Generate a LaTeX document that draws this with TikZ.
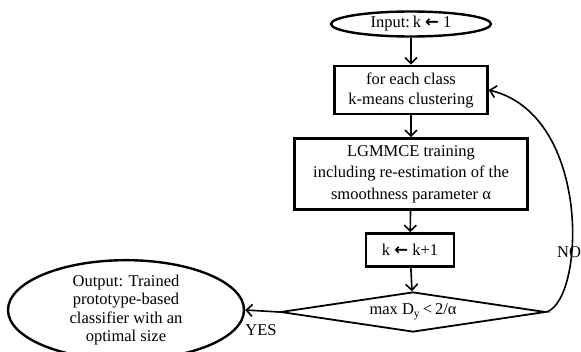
\documentclass[tikz,border=0pt]{standalone}
\usepackage{fontspec}
\setmainfont{Liberation Serif}
\newfontfamily\arrfont{DejaVu Sans}
\usetikzlibrary{shapes.geometric,arrows.meta}
\newcommand{\getsarrow}{{\arrfont\bfseries ←}}
\tikzset{
  procbox/.style={draw,line width=2.6pt,align=center,inner sep=2pt},
  termnode/.style={draw,ellipse,line width=2.4pt,align=center,inner sep=0pt},
  flow/.style={line width=1.6pt,-{Straight Barb[length=6pt,width=12pt,line width=1.6pt]}}
}
\begin{document}
\begin{tikzpicture}[x=1pt,y=-1pt,font=\fontsize{16.5}{21.5}\selectfont]
    \useasboundingbox (0,0) rectangle (581,351);
    % terminals
    \node[termnode,minimum width=160,minimum height=25] (input) at (411,24) {Input:\,k \getsarrow{} 1};
    \node[termnode,minimum width=236,minimum height=81,font=\fontsize{16.5}{18.5}\selectfont] (output) at (126,310) {Output: Trained\\prototype-based\\classifier with an\\optimal size};
    % process steps
    \node[procbox,minimum width=153,minimum height=48,font=\fontsize{16.5}{20}\selectfont] (kmeans) at (411,90) {for each class\\k-means clustering};
    \node[procbox,minimum width=233,minimum height=71] (train) at (411,174) {LGMMCE training\\including re-estimation of the\\smoothness parameter α};
    \node[procbox,minimum width=88,minimum height=33] (incr) at (410,250) {k \getsarrow{} k+1};
    \node[draw,diamond,aspect=6.6,line width=1.8pt,inner sep=0pt,minimum width=265,minimum height=40] (test) at (413,312) {max D\textsubscript{y}\,<\,2/α};
    % connectors
    \draw[flow] (input) -- (kmeans);
    \draw[flow] (kmeans) -- (train);
    \draw[flow] (train) -- (incr);
    \draw[flow] (incr) -- (test);
    \draw[flow] (test.west) -- (output.east);
    \draw[flow] (test.east) .. controls (585,300) and (592,115) .. (kmeans.east);
    \node (no) at (569,252) {NO};
    \node (yes) at (261,330) {YES};
\end{tikzpicture}
\end{document}
